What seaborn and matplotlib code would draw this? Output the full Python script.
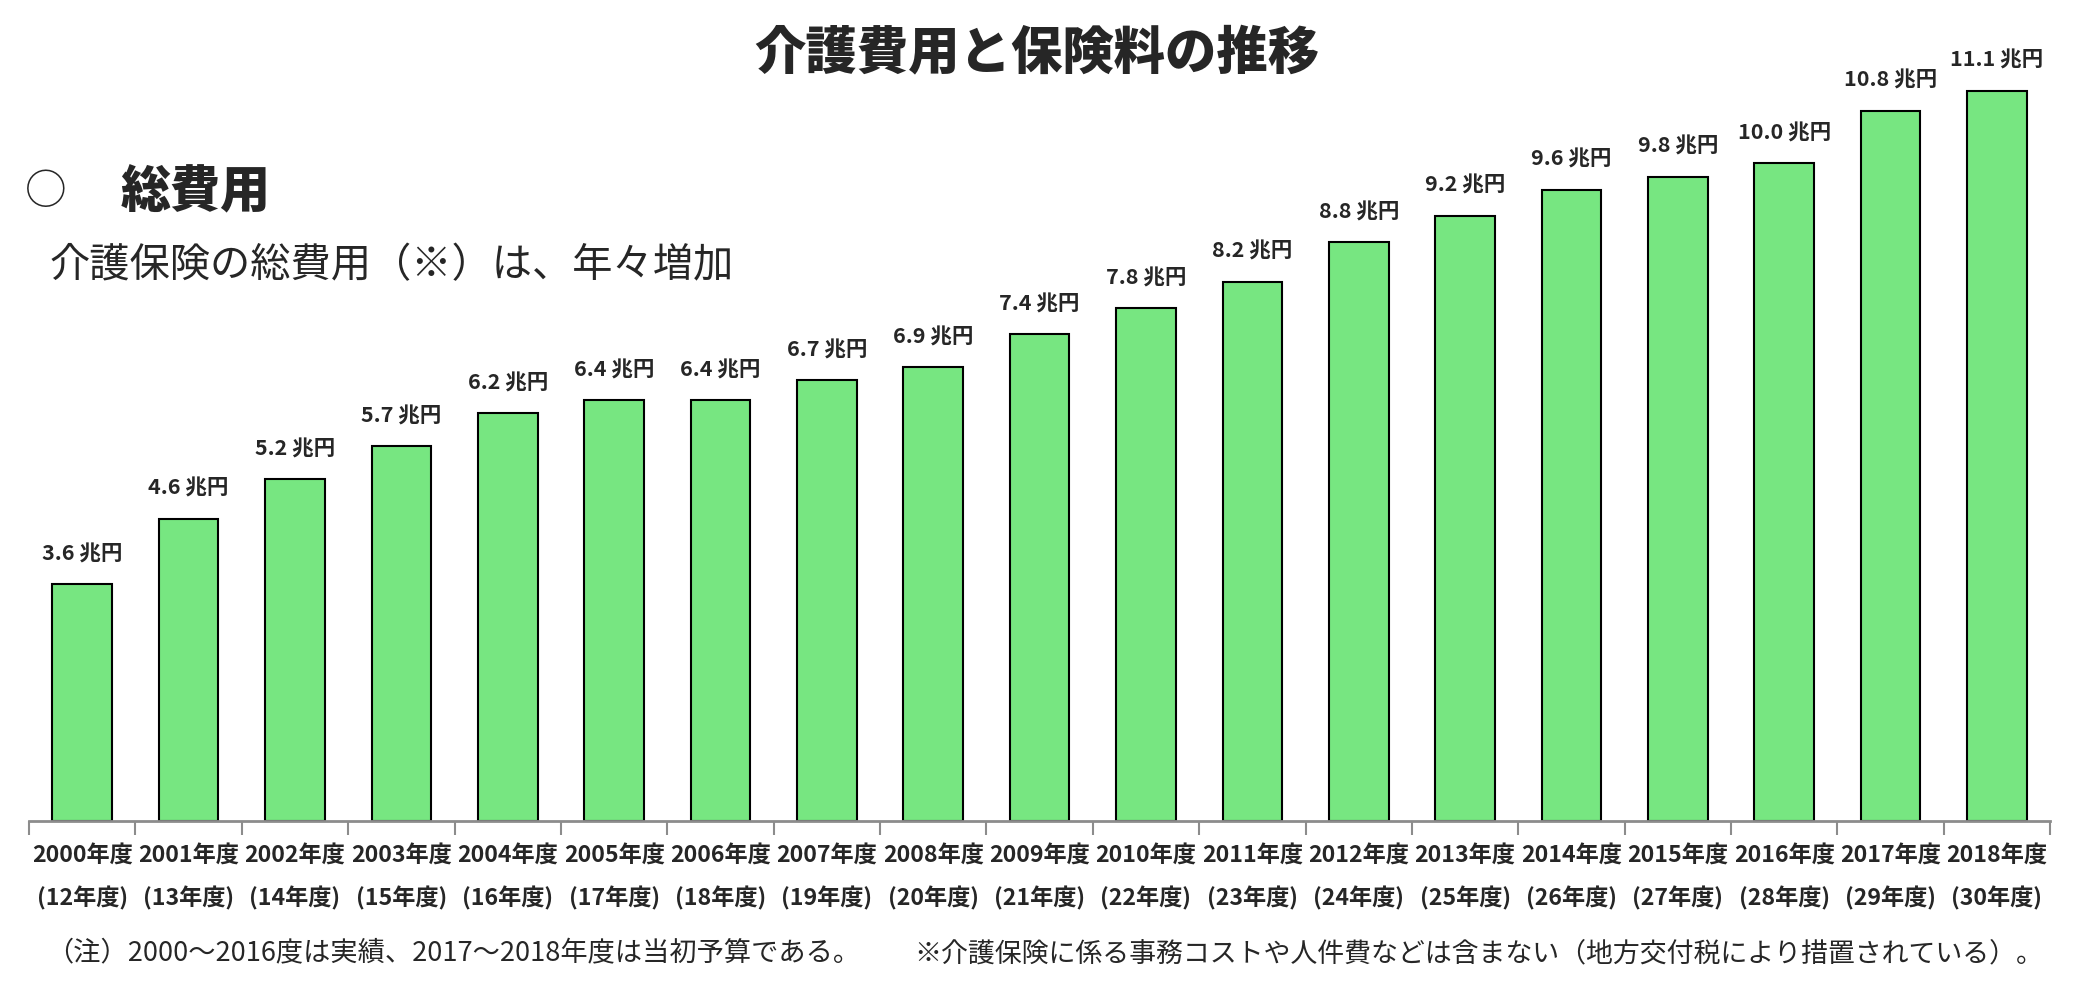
import numpy as np
import pandas as pd
import matplotlib
matplotlib.use("Agg")
import matplotlib.pyplot as plt
import seaborn as sns
from matplotlib.ticker import FixedLocator

# data
years = ["2000", "2001", "2002", "2003", "2004", "2005", "2006", "2007", "2008", "2009",
         "2010", "2011", "2012", "2013", "2014", "2015", "2016", "2017", "2018"]
heisei = ["12", "13", "14", "15", "16", "17", "18", "19", "20", "21",
          "22", "23", "24", "25", "26", "27", "28", "29", "30"]
total_cost = [3.6, 4.6, 5.2, 5.7, 6.2, 6.4, 6.4, 6.7, 6.9, 7.4,
              7.8, 8.2, 8.8, 9.2, 9.6, 9.8, 10.0, 10.8, 11.1]
unit = "兆円"

tick_labels = [f"{y}年度\n({h}年度)" for y, h in zip(years, heisei)]

sns.set_theme(style="white")
plt.rcParams["font.family"] = ["Noto Sans CJK JP", "DejaVu Sans"]

df = pd.DataFrame({"label": tick_labels, "cost": total_cost})

fig = plt.figure(figsize=(20.78, 9.96), dpi=100)
ax = fig.add_axes([0.014, 0.1755, 0.9726, 0.7925])

sns.barplot(data=df, x="label", y="cost", color="#77E681", saturation=1,
            width=0.56, edgecolor="black", linewidth=1.5, ax=ax)

for i, v in enumerate(total_cost):
    ax.annotate(f"{v:.1f} {unit}", xy=(i, v), xytext=(0, 22), textcoords="offset points",
                ha="center", va="center", fontsize=15.5, fontweight="bold")

ax.set_ylim(0, 12)
ax.set_xlim(-0.5, len(years) - 0.5)
ax.set_xlabel("")
ax.set_ylabel("")
ax.set_yticks([])
for side in ["left", "right", "top"]:
    ax.spines[side].set_visible(False)
ax.spines["bottom"].set_color("#8c8c8c")
ax.spines["bottom"].set_linewidth(2)

# tick marks sit between the bars, labels under the bars
ax.xaxis.set_minor_locator(FixedLocator(np.arange(-0.5, len(years), 1.0)))
ax.tick_params(axis="x", which="minor", bottom=True, length=10, width=1.5, color="#8c8c8c")
ax.tick_params(axis="x", which="major", bottom=True, length=0, pad=17)
for t in ax.get_xticklabels():
    t.set_fontsize(16.7)
    t.set_fontweight("bold")
    t.set_linespacing(1.97)

fig.text(0.499, 0.947, "介護費用と保険料の推移", ha="center", va="center",
         fontsize=37, fontweight="heavy")
fig.text(0.012, 0.807, "○", ha="left", va="center", fontsize=30)
fig.text(0.058, 0.807, "総費用", ha="left", va="center", fontsize=36, fontweight="heavy")
fig.text(0.024, 0.733, "介護保険の総費用（※）は、年々増加", ha="left", va="center", fontsize=29)

fig.text(0.022, 0.042, "（注）2000～2016度は実績、2017～2018年度は当初予算である。",
         ha="left", va="center", fontsize=19.6)
fig.text(0.440, 0.042, "※介護保険に係る事務コストや人件費などは含まない（地方交付税により措置されている）。",
         ha="left", va="center", fontsize=19.4)

fig.savefig("out.png", dpi=100)
